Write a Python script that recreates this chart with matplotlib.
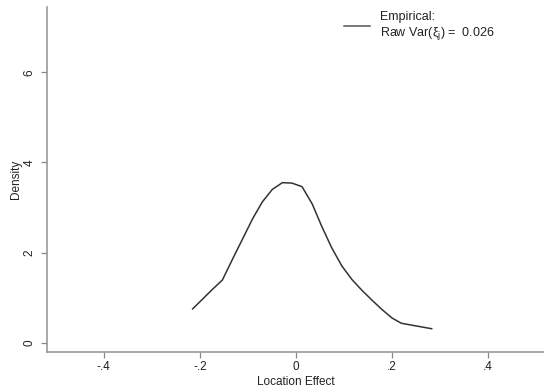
import matplotlib
matplotlib.use("Agg")
import matplotlib.pyplot as plt
import numpy as np

plt.rcParams['font.family'] = ['Liberation Sans', 'DejaVu Sans']
plt.rcParams['mathtext.fontset'] = 'custom'
plt.rcParams['mathtext.rm'] = 'Liberation Sans'
plt.rcParams['mathtext.it'] = 'Liberation Sans'

# Kernel density estimate of location effects (evaluation grid and density)
location_effect = [-0.215, -0.194, -0.174, -0.153, -0.132, -0.111, -0.090, -0.070,
                   -0.049, -0.028, -0.008, 0.013, 0.034, 0.054, 0.075, 0.096,
                   0.117, 0.137, 0.158, 0.179, 0.200, 0.220, 0.241, 0.262, 0.283]
density = [0.75, 0.97, 1.18, 1.39, 1.85, 2.30, 2.75, 3.12,
           3.40, 3.55, 3.54, 3.46, 3.08, 2.58, 2.10, 1.70,
           1.40, 1.17, 0.95, 0.74, 0.55, 0.43, 0.39, 0.35, 0.31]

xticks = [-0.4, -0.2, 0, 0.2, 0.4]
xticklabels = ['-.4', '-.2', '0', '.2', '.4']
yticks = [0, 2, 4, 6]
yticklabels = ['0', '2', '4', '6']
legend_label = 'Empirical:\nRaw Var(ξ$_\\mathregular{j}$) =  0.026'

fig = plt.figure(figsize=(5.44, 3.92), dpi=100)
ax = fig.add_axes([46.7 / 544, 1 - 351.7 / 392, 1 - 46.7 / 544, (351.7 - 7.3) / 392])

line, = ax.plot(location_effect, density, color='#333333', lw=1.1,
                solid_joinstyle='miter', label=legend_label)

ax.set_xlim(-0.519, 0.517)
ax.set_ylim(-0.2, 7.44)

ax.set_xticks(xticks)
ax.set_xticklabels(xticklabels)
ax.set_yticks(yticks)
ax.set_yticklabels(yticklabels, rotation=90, va='center')

for side in ('top', 'right'):
    ax.spines[side].set_visible(False)
for side in ('left', 'bottom'):
    ax.spines[side].set_color('#999999')
    ax.spines[side].set_linewidth(1.2)

ax.tick_params(axis='both', colors='#888888', labelcolor='#222222',
               labelsize=8.5, length=4, width=0.9)
ax.tick_params(axis='y', pad=4)
ax.tick_params(axis='x', pad=3)

ax.set_xlabel('Location Effect', fontsize=8.5, color='#222222', labelpad=2)
ax.set_ylabel('Density', fontsize=8.5, color='#222222', labelpad=1)

leg = ax.legend(handles=[line], loc='upper left', frameon=False,
                bbox_to_anchor=(344 / 544, 1 - 11 / 392),
                bbox_transform=fig.transFigure, fontsize=9,
                borderpad=0, borderaxespad=0, handlelength=2.1,
                handletextpad=0.75, labelspacing=0)
for t in leg.get_texts():
    t.set_color('#222222')
    t.set_linespacing(1.15)
leg.get_lines()[0].set_color('#555555')

fig.savefig('out.png', dpi=100)
